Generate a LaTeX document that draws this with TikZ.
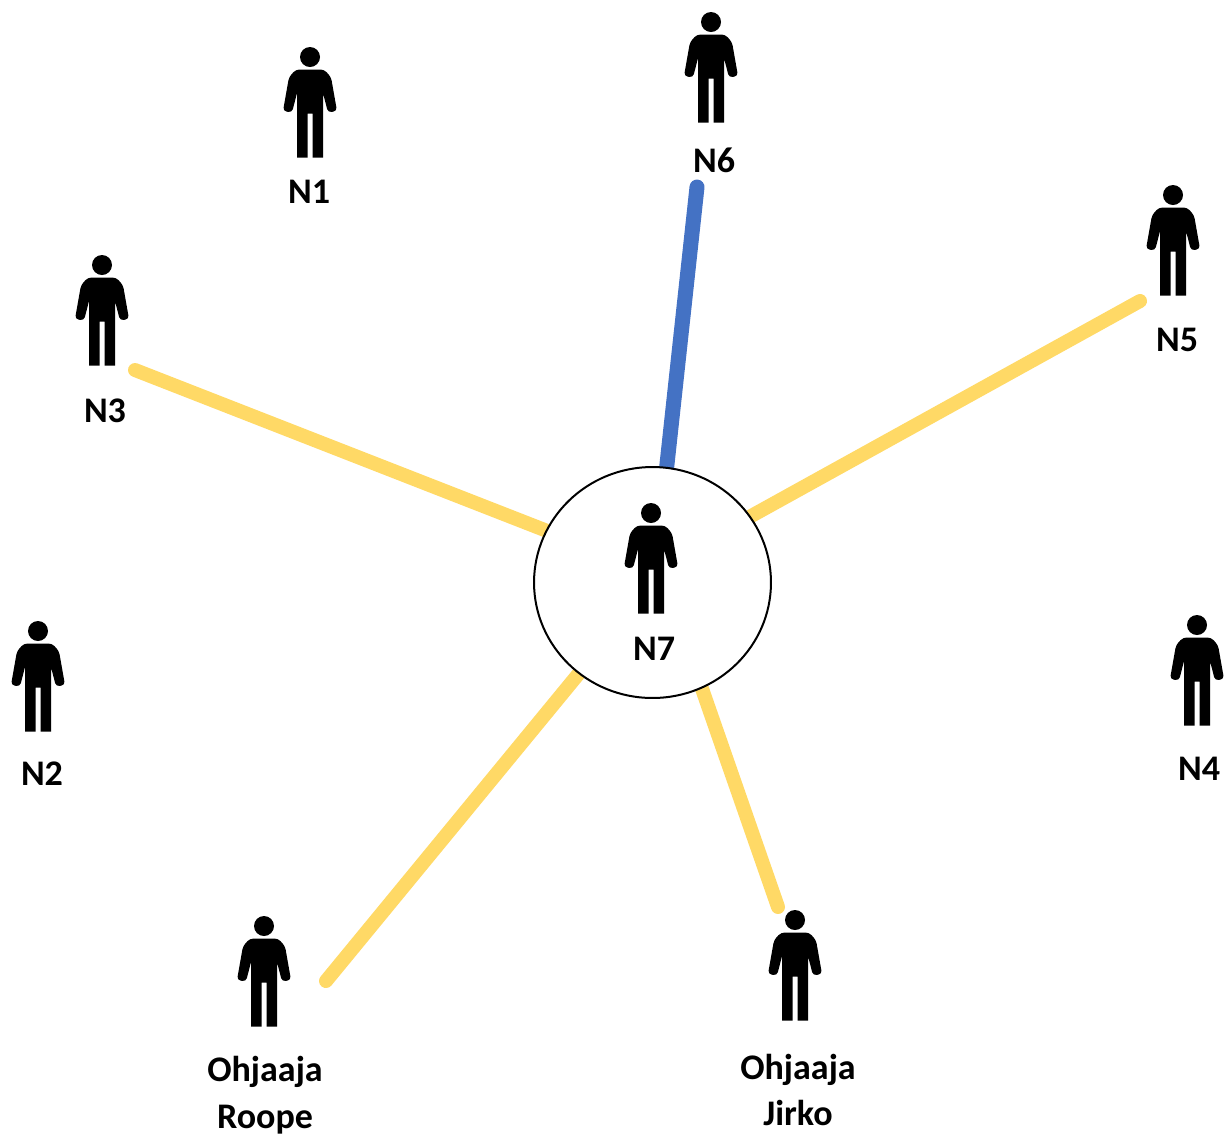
\documentclass[tikz,border=0pt]{standalone}
\usepackage{fontspec}
\setmainfont{Carlito}
\usetikzlibrary{backgrounds,shapes.geometric}
\definecolor{linkyellow}{HTML}{FFD966}
\definecolor{linkblue}{HTML}{4472C4}
\begin{document}
\begin{tikzpicture}[
	x=0.02cm,
	y=-0.02cm,
	person/.pic={
		\fill (0,0) circle (10);
		\fill (-2.5,56.5) -- (-2.5,100.5) -- (-13,100.5) -- (-13,36)
			[rounded corners=2] -- (-18,55.5) -- (-27,54) -- (-21,20) -- (-14,12.5) -- (14,12.5) -- (21,20)
			-- (27,54) -- (18,55.5) -- (13,36) [sharp corners] -- (13,100.5) -- (2.5,100.5) -- (2.5,56.5) -- cycle;
	},
	label/.style={
		align=center,
		inner sep=0pt,
		font=\fontsize{20.5}{26.7}\selectfont\bfseries
	},
	link/.style={
		line width=0.28cm,
		line cap=round,
		linkyellow
	},
]

\useasboundingbox (0,0) rectangle (1229,1137);

\node[ellipse, draw=black, fill=white, line width=0.04cm, minimum width=4.74cm, minimum height=4.62cm, inner sep=0pt] (hub) at (652.5,582.5) {};

\pic at (310,57) {person};
\pic at (711,22) {person};
\pic at (1173,195) {person};
\pic at (102,265) {person};
\pic at (651,513) {person};
\pic at (38,631) {person};
\pic at (1197,625) {person};
\pic at (264,926) {person};
\pic at (795,920) {person};

\node[label] (n1) at (309,192) {N1};
\node[label] (n2) at (42,774) {N2};
\node[label] (n3) at (105,411) {N3};
\node[label] (n4) at (1199,769) {N4};
\node[label] (n5) at (1177,340) {N5};
\node[label] (n6) at (714,160) {N6};
\node[label] (n7) at (654,649) {N7};
\node[label] (roope) at (265,1095) {Ohjaaja\\Roope};
\node[label] (jirko) at (798,1090) {Ohjaaja\\Jirko};

\coordinate (c3) at (135,370);
\coordinate (c5) at (1140,301);
\coordinate (c6) at (697,187);
\coordinate (croope) at (326,981);
\coordinate (cjirko) at (778,907);

\begin{scope}[on background layer]
\draw[link] (c3) -- (hub.154.2);
\draw[link] (c5) -- (hub.34.5);
\draw[link, linkblue, line width=0.3cm] (c6) -- (hub.83.9);
\draw[link] (croope) -- (hub.231.8);
\draw[link] (cjirko) -- (hub.295.6);
\end{scope}

\end{tikzpicture}
\end{document}
